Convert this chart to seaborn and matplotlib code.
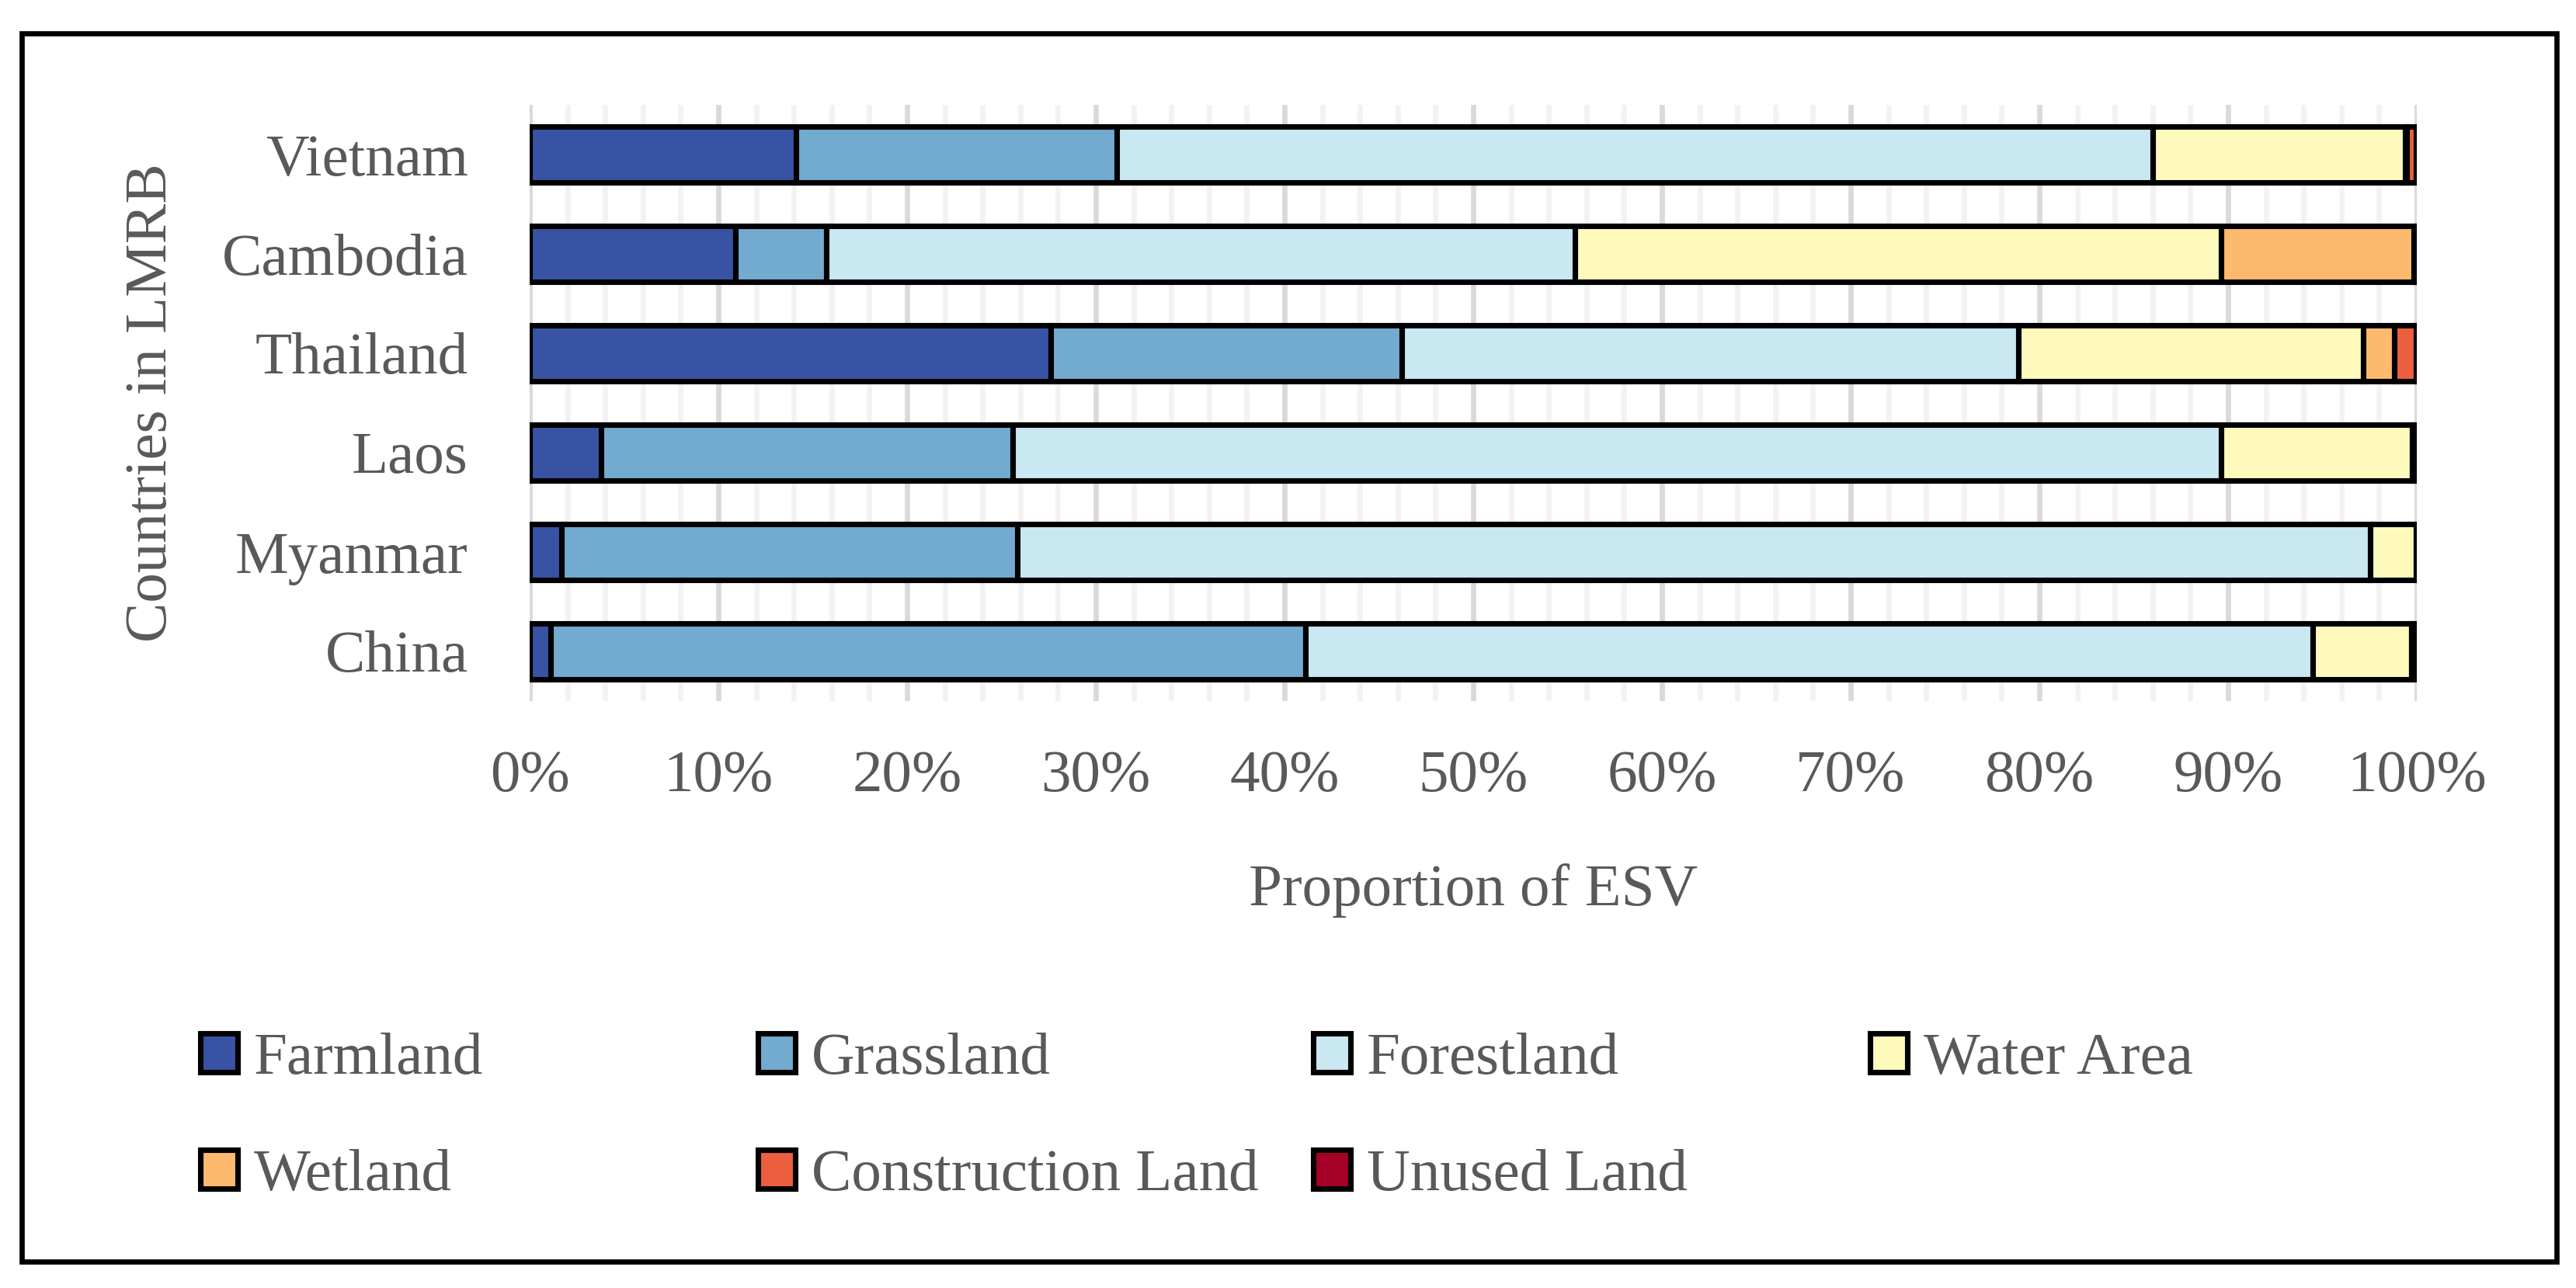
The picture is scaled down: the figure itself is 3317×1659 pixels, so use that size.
import numpy as np
import pandas as pd
import matplotlib.pyplot as plt
import matplotlib.patches as mpatches
from matplotlib.ticker import MultipleLocator, FuncFormatter
import seaborn as sns

# data (share of ESV, %), bottom row first
countries = ["China", "Myanmar", "Laos", "Thailand", "Cambodia", "Vietnam"]
land_types = ["Farmland", "Grassland", "Forestland", "Water Area",
              "Wetland", "Construction Land", "Unused Land"]

farmland     = [1.13, 1.70, 3.80, 27.60, 10.90, 14.10]
grassland    = [39.97, 24.15, 21.80, 18.60, 4.80, 17.00]
forestland   = [53.40, 71.70, 64.05, 32.70, 39.70, 54.90]
water_area   = [5.20, 2.40, 10.10, 18.25, 34.25, 13.40]
wetland      = [0.02, 0.01, 0.01, 1.65, 10.20, 0.05]
construction = [0.08, 0.02, 0.04, 1.15, 0.03, 0.50]
unused       = [0.20, 0.02, 0.20, 0.05, 0.12, 0.05]

colors = ["#3953A4", "#73AACF", "#CAE8F2", "#FEFABC", "#FDBA6F", "#EB5F3F", "#A50026"]
palette = dict(zip(land_types, colors))

df = pd.DataFrame({"country": countries,
                   "Farmland": farmland, "Grassland": grassland,
                   "Forestland": forestland, "Water Area": water_area,
                   "Wetland": wetland, "Construction Land": construction,
                   "Unused Land": unused})
df_long = df.melt(id_vars="country", var_name="land", value_name="share")

sns.set_style("white")
plt.rcParams["font.family"] = ["Liberation Serif", "DejaVu Serif"]
TEXT = "#595959"
FS = 18.5
LW = 1.7

fig = plt.figure(figsize=(3317 / 300, 1659 / 300), dpi=300)
ax = fig.add_axes([682 / 3317, 1 - 903 / 1659, 2430 / 3317, 768 / 1659])

# histplot stacks the last hue level at the baseline, so reverse the order
sns.histplot(data=df_long, y="country", weights="share", hue="land",
             hue_order=land_types[::-1], multiple="stack", discrete=True,
             shrink=0.57, palette=palette, edgecolor="black", linewidth=LW,
             alpha=1, legend=False, ax=ax)
# histplot rescales bar outlines; put the heavy outline back
for p in ax.patches:
    p.set_linewidth(LW)

ax.set_xlim(0, 100)
ax.set_ylim(-0.5, 5.5)
ax.xaxis.set_major_locator(MultipleLocator(10))
ax.xaxis.set_minor_locator(MultipleLocator(2))
ax.xaxis.set_major_formatter(FuncFormatter(lambda v, p: f"{v:.0f}%"))
ax.grid(axis="x", which="major", color="#D9D9D9", linewidth=1.6)
ax.grid(axis="x", which="minor", color="#F2F2F2", linewidth=1.6)
ax.grid(axis="y", visible=False)
ax.set_axisbelow(True)
ax.tick_params(which="both", length=0, labelsize=FS, labelcolor=TEXT)
ax.tick_params(axis="y", pad=19)
ax.tick_params(axis="x", pad=15)
for s in ax.spines.values():
    s.set_visible(False)

ax.set_xlabel("Proportion of ESV", fontsize=FS, color=TEXT)
ax.set_ylabel("Countries in LMRB", fontsize=FS, color=TEXT)
ax.xaxis.set_label_coords(0.5, -0.272)
ax.yaxis.set_label_coords(-0.186, 0.5)

# legend laid out row by row in four fixed columns
handles = [mpatches.Patch(facecolor=c, edgecolor="black", linewidth=LW) for c in colors]
columns = [[0, 4], [1, 5], [2, 6], [3]]
col_x = [258, 976, 1691, 2408]
for idx, x in zip(columns, col_x):
    fig.legend([handles[i] for i in idx], [land_types[i] for i in idx],
               loc="upper left", bbox_to_anchor=(x / 3317, 1 - 1330 / 1659),
               frameon=False, fontsize=FS, labelcolor=TEXT, borderpad=0,
               borderaxespad=0, handlelength=0.62, handleheight=0.62,
               handletextpad=0.27, labelspacing=1.05)

# outer frame
fig.patches.append(mpatches.Rectangle((28 / 3317, 1 - 1625 / 1659),
                                      (3292 - 28) / 3317, (1625 - 43) / 1659,
                                      transform=fig.transFigure, fill=False,
                                      edgecolor="black", linewidth=1.6))

fig.savefig("out.png", dpi=300)
